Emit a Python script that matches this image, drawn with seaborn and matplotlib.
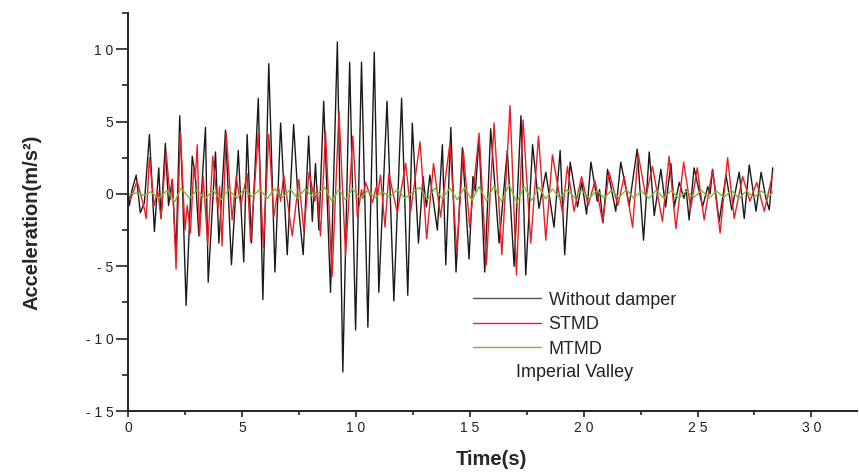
import numpy as np
import pandas as pd
import matplotlib
matplotlib.use("Agg")
import matplotlib.pyplot as plt
import seaborn as sns
from matplotlib.ticker import MultipleLocator, FuncFormatter

# Without damper: turning points (time s, acceleration m/s2)
t_none = [0.0, 0.06, 0.18, 0.36, 0.54, 0.72, 0.94, 1.16, 1.35, 1.45, 1.64, 1.78, 1.94, 2.11, 2.27, 2.39,
          2.55, 2.82, 2.96, 3.11, 3.40, 3.52, 3.84, 3.99, 4.28, 4.54, 4.84, 5.08, 5.23, 5.42, 5.72, 5.92,
          6.18, 6.45, 6.70, 6.99, 7.27, 7.49, 7.69, 7.93, 8.09, 8.23, 8.38, 8.59, 8.89, 9.19, 9.43, 9.73,
          9.99, 10.25, 10.53, 10.81, 11.01, 11.37, 11.67, 12.01, 12.28, 12.48, 12.75, 12.95, 13.10, 13.25,
          13.58, 13.80, 13.95, 14.17, 14.40, 14.68, 14.97, 15.14, 15.25, 15.41, 15.66, 15.92, 16.29, 16.65,
          16.95, 17.25, 17.46, 17.76, 18.04, 18.34, 18.70, 18.97, 19.17, 19.41, 19.73, 19.92, 20.13, 20.32,
          20.60, 20.70, 20.85, 21.05, 21.41, 21.63, 22.00, 22.35, 22.63, 22.88, 23.10, 23.39, 23.60, 23.83,
          23.98, 24.20, 24.40, 24.50, 24.63, 24.85, 25.22, 25.45, 25.55, 25.66, 25.95, 26.25, 26.50, 26.83,
          27.05, 27.27, 27.57, 27.79, 28.00, 28.15, 28.30]
a_none = [0.0, -0.8, 0.3, 1.3, -1.3, -0.6, 4.1, -2.6, 1.8, -1.7, 3.5, -0.8, 1.0, -4.2, 5.4, 0.5,
          -7.7, 2.6, 1.2, -2.9, 4.6, -6.1, 2.9, -3.4, 4.4, -4.9, 3.0, -4.7, 4.1, -3.4, 6.6, -7.3,
          9.0, -5.4, 4.9, -4.2, 4.8, -1.0, -4.2, 4.0, -1.9, 2.1, -2.5, 6.4, -6.8, 10.5, -12.3, 9.1,
          -9.4, 9.1, -9.2, 9.8, -6.8, 6.4, -7.4, 6.6, -7.0, 4.9, -3.4, 1.2, -0.9, 1.3,
          -2.5, 3.4, -4.9, 4.6, -5.4, 3.2, -4.5, 1.2, 0.2, 3.9, -5.4, 4.5, -3.4, 3.0,
          -5.0, 5.4, -5.6, 3.4, -1.0, 1.5, -2.3, 3.0, -4.2, 2.2, -0.9, 0.8, -1.4, 2.2,
          -0.5, 0.3, -2.0, 1.7, -1.2, 2.2, -0.8, 3.1, -3.2, 2.9, -1.5, 1.7, -0.9, 2.1,
          -0.9, 0.8, -0.3, 0.3, -1.8, 1.8, -0.9, 0.5, 0.0, 1.7, -1.9, 1.3, -1.1, 1.5,
          -1.7, 2.0, -1.2, 1.5, -0.3, -1.1, 1.8]

# STMD
t_stmd = [0.0, 0.1, 0.2, 0.4, 0.7, 0.8, 0.94, 1.15, 1.3, 1.45, 1.67, 1.86, 1.95, 2.11, 2.30, 2.50,
          2.60, 2.74, 2.89, 2.95, 3.04, 3.14, 3.30, 3.50, 3.72, 3.95, 4.02, 4.13, 4.31, 4.57, 4.75, 4.95,
          5.23, 5.38, 5.72, 5.94, 6.18, 6.40, 6.60, 6.70, 6.84, 7.21, 7.50, 7.72, 7.95, 8.20, 8.30, 8.45,
          8.67, 8.96, 9.26, 9.55, 9.87, 10.07, 10.25, 10.30, 10.43, 10.73, 10.90, 10.95, 11.08, 11.28,
          11.45, 11.82, 12.19, 12.41, 12.82, 13.11, 13.41, 13.72, 14.13, 14.43, 14.72, 15.00, 15.41, 15.73,
          16.07, 16.41, 16.77, 17.05, 17.34, 17.68, 18.02, 18.34, 18.63, 19.07, 19.29, 19.58, 19.91, 20.20,
          20.50, 20.83, 21.12, 21.50, 21.78, 22.15, 22.39, 22.73, 23.02, 23.46, 23.75, 24.05, 24.39, 24.70,
          24.99, 25.29, 25.66, 25.99, 26.32, 26.61, 26.98, 27.30, 27.60, 27.93, 28.30]
a_stmd = [0.0, -0.4, 0.0, 0.9, -0.9, -1.7, 2.5, -0.8, 0.3, -1.7, 2.9, -0.4, 1.0, -5.2, 4.3, -2.5,
          -0.8, -2.7, 1.9, 1.0, 3.4, -2.9, 1.2, -3.5, 2.6, -1.0, 0.5, -3.6, 4.2, -1.8, 1.2, -0.8,
          1.4, -3.3, 4.2, -3.7, 4.1, -1.6, 0.5, -0.5, 1.3, -2.9, 1.0, -2.6, 1.5, -0.5, 0.5, -2.9,
          4.3, -5.7, 5.7, -4.2, 4.0, -1.6, 0.3, -0.3, 0.8, -0.6, 0.5, -0.2, 1.3, -2.3,
          1.4, -1.3, 2.1, -1.2, 3.6, -3.1, 2.1, -1.6, 3.5, -4.0, 3.0, -2.3, 4.2, -4.9,
          4.9, -4.2, 6.1, -5.6, 5.1, -3.4, 4.0, -3.2, 2.7, -1.3, 1.9, -1.2, 1.2, -0.8,
          0.9, -1.9, 1.5, -0.8, 1.2, -2.3, 2.8, -0.2, 1.9, -1.9, 2.6, -2.4, 2.2, -1.0,
          1.8, -1.8, 1.7, -2.7, 2.5, -1.7, 1.2, -0.5, 0.8, -1.2, 1.4]

# MTMD
t_mtmd = [0.0, 0.35, 0.70, 1.00, 1.35, 1.72, 2.05, 2.33, 2.70, 3.03, 3.38, 3.72, 4.08, 4.42, 4.78, 5.10,
          5.45, 5.78, 6.12, 6.45, 6.78, 7.12, 7.45, 7.78, 8.10, 8.40, 8.64, 8.95, 9.25, 9.55, 9.85, 10.20,
          10.50, 10.85, 11.15, 11.50, 11.82, 12.15, 12.50, 12.80, 13.15, 13.48, 13.80, 14.12, 14.45, 14.78,
          15.10, 15.41, 15.74, 16.07, 16.40, 16.73, 17.06, 17.39, 17.72, 18.04, 18.34, 18.63, 18.95, 19.28,
          19.60, 19.92, 20.25, 20.58, 20.90, 21.22, 21.55, 21.88, 22.20, 22.53, 22.86, 23.19, 23.52, 23.85,
          24.18, 24.51, 24.84, 25.17, 25.50, 25.83, 26.16, 26.49, 26.82, 27.15, 27.48, 27.81, 28.14, 28.30]
a_mtmd = [0.0, 0.05, -0.1, 0.15, -0.3, 0.25, -0.55, 0.4, -0.3, 0.3, -0.35, 0.25, -0.4, 0.3, -0.3, 0.35,
          -0.2, 0.3, -0.3, 0.35, -0.25, 0.3, -0.3, 0.35, -0.2, 0.1, 0.45, -0.5, 0.3, -0.4, 0.35, -0.3,
          0.2, -0.25, 0.15, -0.2, 0.3, -0.3, 0.1, 0.45, -0.4, 0.4, -0.35, 0.4, -0.4, 0.45,
          -0.45, 0.5, -0.5, 0.55, -0.55, 0.65, -0.6, 0.5, -0.45, 0.45, -0.35, 0.35, -0.3, 0.3,
          -0.25, 0.25, -0.3, 0.25, -0.3, 0.25, -0.25, 0.3, -0.3, 0.2, -0.3, 0.25, -0.3, 0.25,
          -0.3, 0.2, -0.25, 0.25, -0.3, 0.2, -0.25, 0.25, -0.3, 0.2, -0.25, 0.2, -0.2, 0.15]

series_names = ["Without damper", "STMD", "MTMD"]
series_colors = ["#1a1a1a", "#ee1c24", "#6cbf3c"]

frames = []
for name, t, a in zip(series_names, [t_none, t_stmd, t_mtmd], [a_none, a_stmd, a_mtmd]):
    frames.append(pd.DataFrame({"Time": t, "Acc": a, "series": name}))
df = pd.concat(frames, ignore_index=True)

sns.set_style("ticks")
plt.rcParams["font.family"] = ["Liberation Sans", "DejaVu Sans"]

fig = plt.figure(figsize=(8.59, 4.73), dpi=100)
ax = fig.add_axes([128 / 859, 62 / 473, 729 / 859, 398 / 473])

for name, col in zip(series_names, series_colors):
    sns.lineplot(data=df[df["series"] == name], x="Time", y="Acc", color=col, lw=1.0,
                 label=name, estimator=None, sort=False, ax=ax)

ax.set_xlim(0, 32)
ax.set_ylim(-15, 12.5)
ax.xaxis.set_major_locator(MultipleLocator(5))
ax.xaxis.set_minor_locator(MultipleLocator(2.5))
ax.yaxis.set_major_locator(MultipleLocator(5))
ax.yaxis.set_minor_locator(MultipleLocator(2.5))
spaced = FuncFormatter(lambda v, _: " ".join(str(int(round(v)))))
ax.xaxis.set_major_formatter(spaced)
ax.yaxis.set_major_formatter(spaced)

sns.despine(ax=ax)
for s in ["left", "bottom"]:
    ax.spines[s].set_linewidth(1.4)
    ax.spines[s].set_color("#222222")
ax.tick_params(axis="y", which="major", length=8.4, width=1.2, pad=2, labelsize=10, colors="#222222")
ax.tick_params(axis="y", which="minor", length=4.3, width=1.2, colors="#222222")
ax.tick_params(axis="x", which="major", length=4.5, width=1.2, pad=3, labelsize=10, colors="#222222")
ax.tick_params(axis="x", which="minor", length=3, width=1.2, colors="#222222")

ax.set_xlabel("Time(s)", fontsize=14.5, fontweight="bold")
ax.set_ylabel("Acceleration(m/s²)", fontsize=14.5, fontweight="bold")
ax.xaxis.set_label_coords(0.498, -0.098)
ax.yaxis.set_label_coords(-0.118, 0.475)

leg = ax.legend(loc="upper left", bbox_to_anchor=(0.473, 0.30), frameon=False, fontsize=13,
                handlelength=3.8, handletextpad=0.4, labelspacing=0.42, borderpad=0, borderaxespad=0)
leg.get_lines()[0].set_color("#555555")
ax.text(0.532, 0.0955, "Imperial Valley", transform=ax.transAxes, va="center", ha="left",
        fontsize=13, color="#222222")

fig.savefig("out.png", dpi=100)
